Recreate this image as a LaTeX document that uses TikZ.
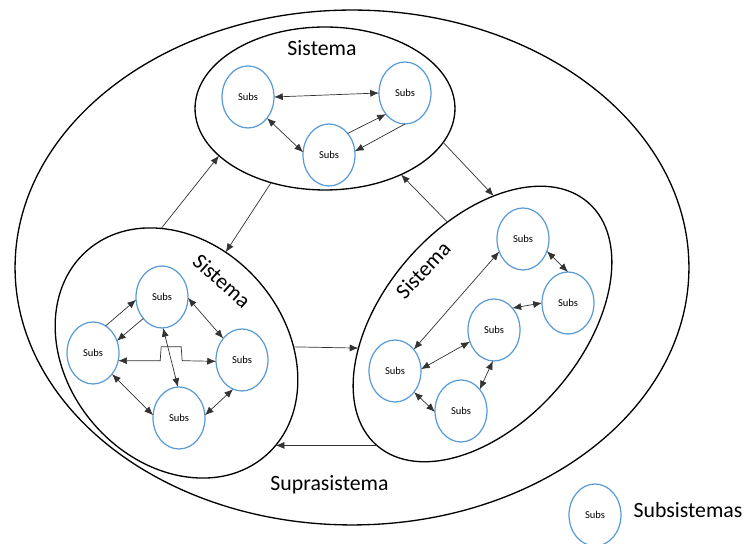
\documentclass[tikz,border=0pt]{standalone}
\usepackage{fontspec}
\setmainfont{Carlito}
\usetikzlibrary{arrows.meta,shapes.geometric}
\definecolor{subsblue}{RGB}{91,155,213}
\tikzset{
	>={Latex[length=5pt,width=4pt]},
	sistema/.style={draw, ellipse, line width=0.75pt, inner sep=0pt, outer sep=0pt},
	subs/.style={draw=subsblue, ellipse, line width=0.7pt, inner sep=0pt, outer sep=0pt,
		minimum width=1.04cm, minimum height=1.24cm, font=\fontsize{6}{7}\selectfont},
	rel/.style={<->, line width=0.4pt, draw=black!80},
	flow/.style={->, line width=0.4pt, draw=black!80},
	titulo/.style={font=\fontsize{12.4}{14}\selectfont}
}

\begin{document}
\begin{tikzpicture}[x=0.02cm, y=0.02cm]
			%%%%% START %%%%%
			\useasboundingbox (0,0) rectangle (745,544);
			
			\node[sistema, minimum width=13.48cm, minimum height=10.3cm] (supra) at (352,276.5) {};
			\node[sistema, minimum width=5.2cm, minimum height=3.26cm] (sisA) at (325,435.5) {};
			\node[sistema, rotate=-49, minimum width=5.44cm, minimum height=4.36cm] (sisB) at (176.5,191) {};
			\node[sistema, rotate=49, minimum width=6.44cm, minimum height=3.96cm] (sisC) at (482.5,220) {};
			
			\node[titulo] (tA) at (322,496) {Sistema};
			\node[titulo, rotate=-42] (tB) at (222,263) {Sistema};
			\node[titulo, rotate=47] (tC) at (423,274) {Sistema};
			\node[titulo] (tS) at (329.5,59) {Suprasistema};
			
			% sistema de arriba
			\node[subs] (a1) at (248,447) {Subs};
			\node[subs] (a2) at (405,451) {Subs};
			\node[subs] (a3) at (329,389) {Subs};
			\draw[rel] (a1.0) -- (a2.180);
			\draw[rel] (a1.-48) -- (a3.174);
			\draw[flow] (a3.49) -- (a2.-132);
			\draw[flow] (a2.-90) -- (a3.8);
			
			% sistema de la izquierda
			\node[subs] (b1) at (162,247) {Subs};
			\node[subs] (b2) at (93,191) {Subs};
			\node[subs] (b3) at (242,184) {Subs};
			\node[subs] (b4) at (179,126) {Subs};
			\draw[flow] (b2.65) -- (b1.186);
			\draw[flow] (b1.-131) -- (b2.27);
			\draw[rel] (b1.-2) -- (b3.131);
			\draw[rel] (b2.-17) -- ++(42,0) -- ++(1,14) -- ++(20,0) -- ++(1,-14) -- (b3.183);
			\draw[rel] (b1.-88) -- (b4.92);
			\draw[rel] (b2.-48) -- (b4.174);
			\draw[rel] (b4.6) -- (b3.-107);
			
			% sistema de la derecha
			\node[subs] (c1) at (523,305) {Subs};
			\node[subs] (c2) at (568,241) {Subs};
			\node[subs] (c3) at (494,214) {Subs};
			\node[subs] (c4) at (395,173) {Subs};
			\node[subs] (c5) at (461,133) {Subs};
			\draw[rel] (c1.-152) -- (c4.49);
			\draw[rel] (c1.-27) -- (c2.90);
			\draw[rel] (c3.50) -- (c2.180);
			\draw[rel] (c4.4) -- (c3.206);
			\draw[rel] (c3.-92) -- (c5.49);
			\draw[rel] (c4.-48) -- (c5.182);
			
			% entre sistemas
			\draw[flow] (sisB.146) -- (sisA.204);
			\draw[flow] (sisA.234) -- (sisB.113);
			\draw[flow] (sisA.-16) -- (sisC.36);
			\draw[flow] (sisC.60) -- (sisA.-41);
			\draw[flow] (sisB.52) -- (sisC.142);
			\draw[flow] (sisC.180) -- (sisB.6);
			
			\node[subs] (leg) at (595,29) {Subs};
			\node[titulo] (legtxt) at (688,34) {Subsistemas};
			%%%%% END %%%%%
\end{tikzpicture}
\end{document}
